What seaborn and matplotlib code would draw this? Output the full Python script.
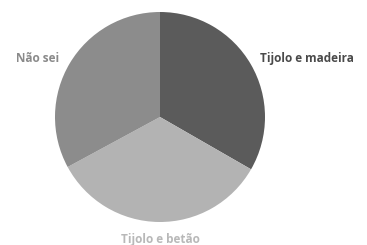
import matplotlib
matplotlib.use("Agg")
import matplotlib.pyplot as plt
import seaborn as sns

labels = ["Tijolo e madeira", "Tijolo e betão", "Não sei"]
values = [33.3, 33.8, 32.9]
colors = ["#5b5b5b", "#b3b3b3", "#8c8c8c"]
label_colors = ["#4a4a4a", "#b8b8b8", "#8a8a8a"]

sns.set_theme(style="white")
plt.rcParams['font.family'] = ['Open Sans', 'DejaVu Sans']

fig = plt.figure(figsize=(3.67, 2.45), dpi=100)
ax = fig.add_axes([55 / 367, 23 / 245, 210 / 367, 210 / 245])
ax.pie(values, colors=colors, startangle=90, counterclock=False,
       wedgeprops=dict(linewidth=0), radius=1)
ax.set_xlim(-1, 1)
ax.set_ylim(-1, 1)
ax.set_aspect("equal")
ax.axis("off")

# label spots (axes data units)
spots = [(1.40, 0.56), (0.0, -1.17), (-1.17, 0.56)]
for lab, col, (x, y) in zip(labels, label_colors, spots):
    ax.text(x, y, lab, ha="center", va="center", fontsize=8.5,
            fontweight="bold", color=col, clip_on=False)

fig.savefig("out.png", dpi=100)
